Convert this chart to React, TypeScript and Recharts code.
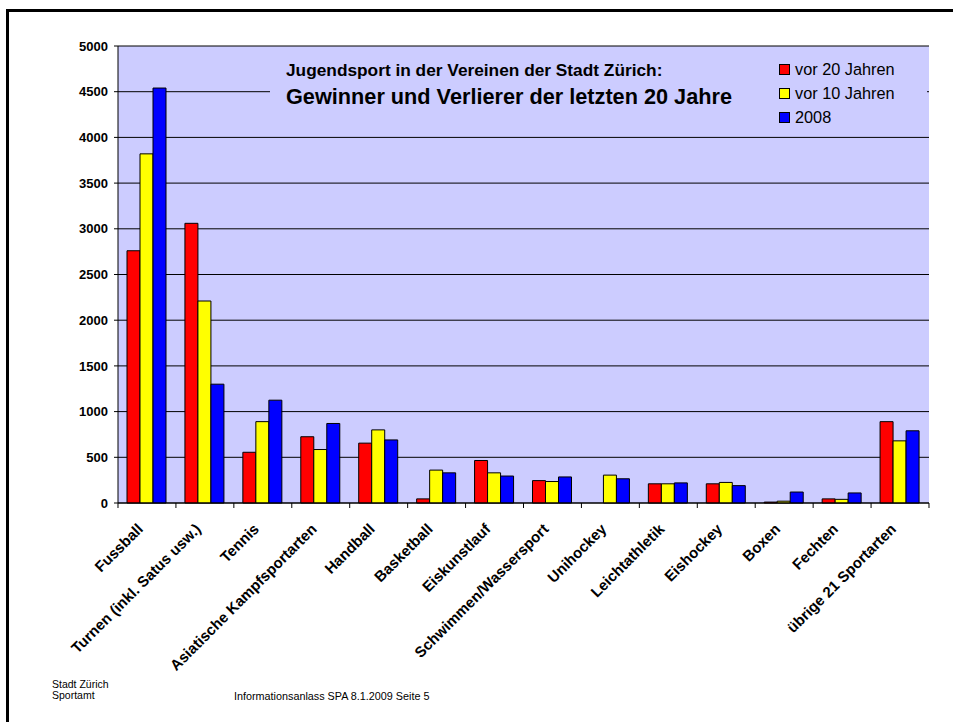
import { Bar, BarChart, CartesianGrid, Legend, XAxis, YAxis } from "recharts"

const categories = [
    "Fussball",
    "Turnen (inkl. Satus usw.)",
    "Tennis",
    "Asiatische Kampfsportarten",
    "Handball",
    "Basketball",
    "Eiskunstlauf",
    "Schwimmen/Wassersport",
    "Unihockey",
    "Leichtathletik",
    "Eishockey",
    "Boxen",
    "Fechten",
    "übrige 21 Sportarten",
]
const seriesNames = ["vor 20 Jahren", "vor 10 Jahren", "2008"]
const vor20 = [2760, 3060, 555, 725, 655, 45, 465, 245, 0, 210, 210, 10, 45, 890]
const vor10 = [3820, 2210, 890, 585, 800, 360, 330, 235, 305, 210, 225, 20, 40, 680]
const y2008 = [4540, 1300, 1125, 870, 690, 330, 295, 285, 265, 220, 190, 120, 110, 790]
const yTicks = [0, 500, 1000, 1500, 2000, 2500, 3000, 3500, 4000, 4500, 5000]

const data = categories.map((name, i) => ({ name, vor20: vor20[i], vor10: vor10[i], y2008: y2008[i] }))

const FONT = "'Liberation Sans', Arial, sans-serif"
const W = 953
const H = 722
const PLOT_LEFT = 118
const PLOT_RIGHT = 929
const BAND = (PLOT_RIGHT - PLOT_LEFT) / categories.length

function XTick(props: any) {
    const { x, y, payload, index } = props
    return (
        <g transform={`translate(${x},${y})`}>
            <line x1={-BAND / 2} x2={-BAND / 2} y1={0} y2={5} stroke="#000" />
            {index === categories.length - 1 && <line x1={BAND / 2} x2={BAND / 2} y1={0} y2={5} stroke="#000" />}
            <text
                transform="translate(-3,27) rotate(-45)"
                textAnchor="end"
                fontFamily={FONT}
                fontWeight="bold"
                fontSize={15}
                fill="#000"
            >
                {payload.value}
            </text>
        </g>
    )
}

function LegendBox(props: any) {
    const items = [...(props.payload || [])].sort(
        (a: any, b: any) => seriesNames.indexOf(a.value) - seriesNames.indexOf(b.value)
    )
    return (
        <div style={{ fontFamily: FONT, fontSize: 16.3, color: "#000" }}>
            {items.map((p: any) => (
                <div key={p.value} style={{ display: "flex", alignItems: "center", height: 23.7 }}>
                    <span
                        style={{
                            display: "inline-block",
                            width: 9,
                            height: 9,
                            background: p.color,
                            border: "1px solid #000",
                            marginRight: 5,
                        }}
                    />
                    <span>{p.value}</span>
                </div>
            ))}
        </div>
    )
}

export default function App() {
    return (
        <div style={{ position: "fixed", left: 0, top: 0, width: W, height: H, background: "#fff" }}>
            <div
                style={{
                    position: "absolute",
                    left: 6,
                    top: 9,
                    width: W,
                    height: H,
                    borderTop: "3px solid #000",
                    borderLeft: "3px solid #000",
                }}
            />
            <BarChart
                width={W}
                height={H}
                data={data}
                margin={{ top: 46, right: W - PLOT_RIGHT, left: 0, bottom: 19 }}
                barGap={0}
                barSize={13}
            >
                <CartesianGrid vertical={false} stroke="#000" fill="#CCCCFF" fillOpacity={1} />
                <XAxis
                    dataKey="name"
                    interval={0}
                    height={200}
                    tickSize={0}
                    tickMargin={0}
                    tickLine={false}
                    axisLine={{ stroke: "#000" }}
                    tick={<XTick />}
                />
                <YAxis
                    width={PLOT_LEFT}
                    domain={[0, 5000]}
                    ticks={yTicks}
                    interval={0}
                    tickSize={4}
                    tickMargin={6}
                    axisLine={{ stroke: "#000" }}
                    tickLine={{ stroke: "#000" }}
                    tick={{ fill: "#000", fontSize: 13, fontWeight: "bold", fontFamily: FONT }}
                />
                <YAxis
                    yAxisId="r"
                    orientation="right"
                    width={0}
                    domain={[0, 5000]}
                    tick={false}
                    tickLine={false}
                    axisLine={{ stroke: "#777" }}
                />
                <Legend
                    layout="vertical"
                    verticalAlign="middle"
                    align="center"
                    content={<LegendBox />}
                    wrapperStyle={{ position: "absolute", left: 779, top: 58, width: 140, zIndex: 2 }}
                />
                <Bar dataKey="vor20" name={seriesNames[0]} fill="#FF0000" stroke="#000" strokeWidth={1} isAnimationActive={false} />
                <Bar dataKey="vor10" name={seriesNames[1]} fill="#FFFF00" stroke="#000" strokeWidth={1} isAnimationActive={false} />
                <Bar dataKey="y2008" name={seriesNames[2]} fill="#0000FF" stroke="#000" strokeWidth={1} isAnimationActive={false} />
            </BarChart>
            <svg
                width={W}
                height={H}
                style={{ position: "absolute", left: 0, top: 0, zIndex: 1, pointerEvents: "none" }}
            >
                <rect x={270} y={52} width={657} height={78} fill="#CCCCFF" />
                <text x={286} y={76} fontFamily={FONT} fontWeight="bold" fontSize={17.3} fill="#000">
                    Jugendsport in der Vereinen der Stadt Zürich:
                </text>
                <text x={286} y={104} fontFamily={FONT} fontWeight="bold" fontSize={21.7} fill="#000">
                    Gewinner und Verlierer der letzten 20 Jahre
                </text>
                <text fontFamily={FONT} fontSize={10.5} fill="#000">
                    <tspan x={52} y={688}>Stadt Zürich</tspan>
                    <tspan x={52} y={699}>Sportamt</tspan>
                </text>
                <text x={234} y={700} fontFamily={FONT} fontSize={10.8} fill="#000">
                    Informationsanlass SPA 8.1.2009 Seite 5
                </text>
            </svg>
        </div>
    )
}
